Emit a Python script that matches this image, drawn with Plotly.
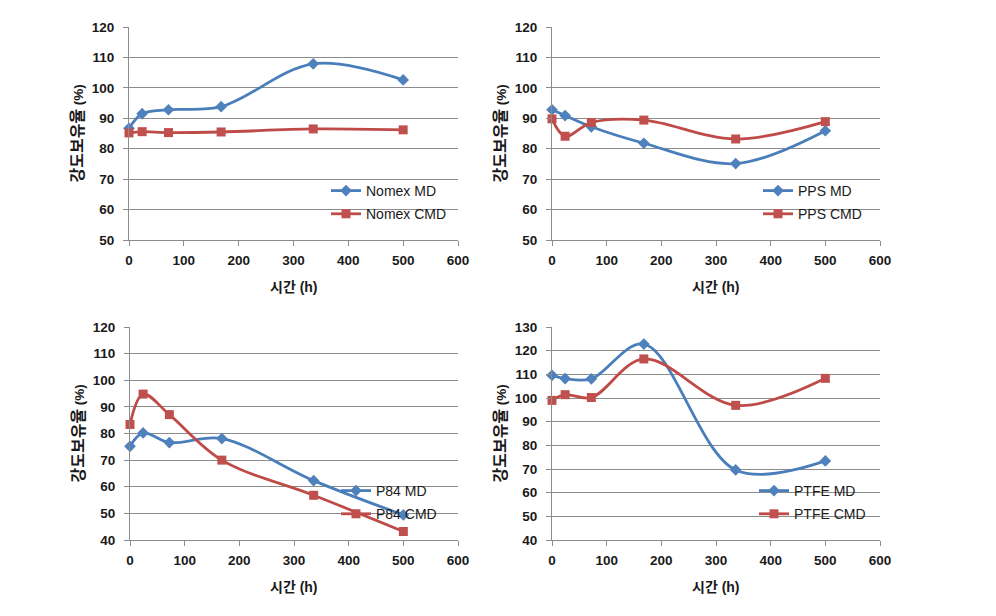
import plotly.graph_objects as go

hours = [0, 24, 72, 168, 336, 500]

nomex_md = [86.7, 91.5, 92.8, 93.8, 107.9, 102.6]
nomex_cmd = [85.2, 85.6, 85.3, 85.5, 86.5, 86.2]
pps_md = [92.8, 90.9, 87.2, 81.8, 75.1, 85.9]
pps_cmd = [89.8, 84.1, 88.6, 89.4, 83.2, 88.9]
p84_md = [75.2, 80.2, 76.6, 78.1, 62.3, 49.4]
p84_cmd = [83.4, 94.8, 87.1, 70.0, 56.8, 43.2]
ptfe_md = [109.6, 108.2, 108.1, 122.8, 69.6, 73.4]
ptfe_cmd = [99.0, 101.4, 100.2, 116.5, 96.9, 108.3]

names_md = ["Nomex MD", "PPS MD", "P84 MD", "PTFE MD"]
names_cmd = ["Nomex CMD", "PPS CMD", "P84 CMD", "PTFE CMD"]
y_ranges = [[50, 120], [50, 120], [40, 120], [40, 130]]
x_ticks = [0, 100, 200, 300, 400, 500, 600]

x_title = "시간 (h)"
y_title = "<span style='font-size:16px'>강도보유율</span> (%)"

W, H = 996, 616
# pixel boxes of the four plot areas: (left, right, top, bottom)
boxes = [(129, 458, 27, 240), (552, 880, 27, 240),
         (130, 458, 327, 540), (552, 880, 327, 540)]
legend_pos = [(326, 175), (758, 175), (336, 475), (754, 475)]

BLUE_L, BLUE_M = "#4A7EBB", "#4F81BD"
RED_L, RED_M = "#BE4B48", "#C0504D"
GRID = "#8C8C8C"
FONT = "Liberation Sans, Arial, Noto Sans CJK KR"

series = [(nomex_md, nomex_cmd), (pps_md, pps_cmd), (p84_md, p84_cmd), (ptfe_md, ptfe_cmd)]

fig = go.Figure()
layout = dict(width=W, height=H, margin=dict(l=0, r=0, t=0, b=0, pad=0, autoexpand=False),
              paper_bgcolor="white", plot_bgcolor="white",
              font=dict(family=FONT, color="#1a1a1a"), annotations=[])

for i, ((md, cmd), (l, r, t, b)) in enumerate(zip(series, boxes)):
    k = "" if i == 0 else str(i + 1)
    xa, ya = "x" + k, "y" + k
    lg = "legend" + k
    fig.add_trace(go.Scatter(x=hours, y=md, name=names_md[i], xaxis=xa, yaxis=ya,
                             mode="lines+markers", line=dict(color=BLUE_L, width=2.8, shape="spline", smoothing=1),
                             marker=dict(symbol="diamond", size=9, color=BLUE_M),
                             cliponaxis=False, legend=lg, legendgroup="md" + k))
    fig.add_trace(go.Scatter(x=hours, y=cmd, name=names_cmd[i], xaxis=xa, yaxis=ya,
                             mode="lines+markers", line=dict(color=RED_L, width=2.8, shape="spline", smoothing=1),
                             marker=dict(symbol="square", size=9, color=RED_M),
                             cliponaxis=False, legend=lg, legendgroup="cmd" + k))
    layout["xaxis" + k] = dict(domain=[l / W, r / W], anchor=ya, range=[0, 600],
                               tickvals=x_ticks, showgrid=False, zeroline=False,
                               showline=True, linecolor=GRID, linewidth=1,
                               ticks="outside", ticklen=5, tickcolor=GRID,
                               tickfont=dict(size=13.5, weight="bold", color="#1a1a1a"),
                               ticklabelstandoff=3, automargin=False)
    y0, y1 = y_ranges[i]
    layout["yaxis" + k] = dict(domain=[1 - b / H, 1 - t / H], anchor=xa, range=[y0, y1],
                               dtick=10, tick0=0, showgrid=True, gridcolor=GRID, gridwidth=1,
                               zeroline=False, showline=True, linecolor=GRID, linewidth=1,
                               ticks="outside", ticklen=5, tickcolor=GRID,
                               tickfont=dict(size=13.5, weight="bold", color="#1a1a1a"),
                               ticklabelstandoff=6, automargin=False)
    lx, ly = legend_pos[i]
    layout[lg] = dict(x=lx / W, y=1 - ly / H, xanchor="left", yanchor="top",
                      bgcolor="rgba(0,0,0,0)", font=dict(size=14, family=FONT),
                      tracegroupgap=2, itemwidth=30)
    layout["annotations"].append(dict(text=x_title, xref="paper", yref="paper",
                                      x=(l + r) / 2 / W, y=1 - (b + 47) / H,
                                      showarrow=False, xanchor="center", yanchor="middle",
                                      font=dict(size=14, family=FONT, weight="bold")))
    layout["annotations"].append(dict(text=y_title, xref="paper", yref="paper",
                                      x=(l - 52) / W, y=1 - (t + b) / 2 / H, textangle=-90,
                                      showarrow=False, xanchor="center", yanchor="middle",
                                      font=dict(size=13.5, family=FONT, weight="bold")))

fig.update_layout(**layout)
fig.write_html("out.html", config={"displayModeBar": False},
               post_script="document.body.style.margin='0';")
